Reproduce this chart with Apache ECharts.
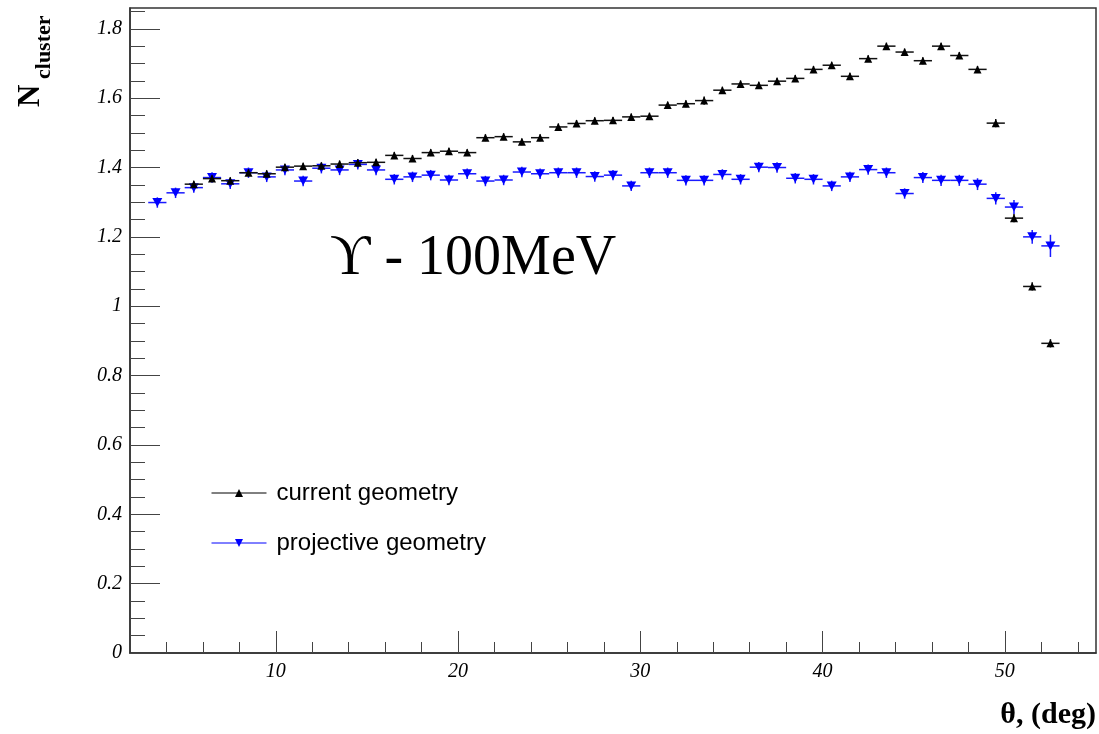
<!DOCTYPE html>
<html>
<head>
<meta charset="utf-8">
<script src="https://cdn.jsdelivr.net/npm/echarts@6/dist/echarts.min.js"></script>
<style>
  html, body { margin: 0; padding: 0; background: #fff; }
  #chart { width: 1099px; height: 734px; }
</style>
</head>
<body>
<div id="chart"></div>
<script>
// bin centres, deg
var theta = [3.5, 4.5, 5.5, 6.5, 7.5, 8.5, 9.5, 10.5, 11.5, 12.5,
  13.5, 14.5, 15.5, 16.5, 17.5, 18.5, 19.5, 20.5, 21.5, 22.5,
  23.5, 24.5, 25.5, 26.5, 27.5, 28.5, 29.5, 30.5, 31.5, 32.5,
  33.5, 34.5, 35.5, 36.5, 37.5, 38.5, 39.5, 40.5, 41.5, 42.5,
  43.5, 44.5, 45.5, 46.5, 47.5, 48.5, 49.5, 50.5, 51.5, 52.5];

// current geometry
var currentVal = [null, null, 1.352, 1.368, 1.362, 1.385, 1.382, 1.401, 1.404, 1.405,
  1.410, 1.414, 1.415, 1.435, 1.426, 1.443, 1.447, 1.443, 1.486, 1.489,
  1.474, 1.486, 1.517, 1.527, 1.535, 1.536, 1.546, 1.548, 1.580, 1.584,
  1.593, 1.623, 1.641, 1.637, 1.649, 1.657, 1.683, 1.695, 1.663, 1.714,
  1.750, 1.733, 1.708, 1.750, 1.723, 1.683, 1.528, 1.254, 1.057, 0.893];
var currentErr = [0, 0, 0.010, 0.010, 0.010, 0.010, 0.010, 0.010, 0.010, 0.010,
  0.010, 0.010, 0.010, 0.010, 0.010, 0.010, 0.010, 0.010, 0.010, 0.010,
  0.010, 0.010, 0.010, 0.010, 0.010, 0.010, 0.010, 0.010, 0.010, 0.010,
  0.012, 0.010, 0.010, 0.010, 0.010, 0.010, 0.010, 0.010, 0.010, 0.010,
  0.010, 0.010, 0.010, 0.010, 0.010, 0.010, 0.012, 0.012, 0.012, 0.012];

// projective geometry
var projectiveVal = [1.299, 1.327, 1.342, 1.371, 1.353, 1.385, 1.373, 1.393, 1.361, 1.398,
  1.393, 1.409, 1.393, 1.366, 1.373, 1.378, 1.364, 1.382, 1.361, 1.364,
  1.387, 1.382, 1.385, 1.385, 1.374, 1.378, 1.347, 1.385, 1.385, 1.363,
  1.363, 1.380, 1.366, 1.401, 1.400, 1.369, 1.366, 1.347, 1.373, 1.394,
  1.385, 1.325, 1.371, 1.363, 1.363, 1.352, 1.311, 1.286, 1.200, 1.174];
var projectiveErr = [0.015, 0.015, 0.015, 0.015, 0.015, 0.015, 0.015, 0.015, 0.015, 0.015,
  0.015, 0.015, 0.015, 0.015, 0.015, 0.015, 0.015, 0.015, 0.015, 0.015,
  0.015, 0.015, 0.015, 0.015, 0.015, 0.015, 0.015, 0.015, 0.015, 0.015,
  0.015, 0.015, 0.015, 0.015, 0.015, 0.015, 0.015, 0.015, 0.015, 0.015,
  0.015, 0.015, 0.016, 0.016, 0.016, 0.017, 0.018, 0.020, 0.020, 0.032];

// axis ticks
var xMajor = [10, 20, 30, 40, 50];
var xMinor = [4, 6, 8, 12, 14, 16, 18, 22, 24, 26, 28, 32, 34, 36, 38, 42, 44, 46, 48, 52, 54];
var yMajor = [0, 0.2, 0.4, 0.6, 0.8, 1, 1.2, 1.4, 1.6, 1.8];
var yMinor = [0.05, 0.1, 0.15, 0.25, 0.3, 0.35, 0.45, 0.5, 0.55, 0.65, 0.7, 0.75,
  0.85, 0.9, 0.95, 1.05, 1.1, 1.15, 1.25, 1.3, 1.35, 1.45, 1.5, 1.55, 1.65, 1.7, 1.75, 1.85];

var SERIF = '"Liberation Serif", "DejaVu Serif", serif';

function pairs(vals) {
  return theta.map(function (t, i) { return [t, vals[i]]; });
}
function withErr(vals, errs) {
  var out = [];
  theta.forEach(function (t, i) {
    if (vals[i] != null) out.push([t, vals[i], errs[i]]);
  });
  return out;
}

// ROOT style error bars: +-half bin along x, +-err along y
function errorBars(color) {
  return function (params, api) {
    var x = api.value(0), y = api.value(1), e = api.value(2);
    var l = api.coord([x - 0.5, y]);
    var r = api.coord([x + 0.5, y]);
    var t = api.coord([x, y + e]);
    var b = api.coord([x, y - e]);
    return {
      type: 'group',
      children: [
        { type: 'line', shape: { x1: l[0], y1: l[1], x2: r[0], y2: r[1] }, style: { stroke: color, lineWidth: 1.5 } },
        { type: 'line', shape: { x1: t[0], y1: t[1], x2: b[0], y2: b[1] }, style: { stroke: color, lineWidth: 1.5 } }
      ]
    };
  };
}

var chart = echarts.init(document.getElementById('chart'));

var option = {
  animation: false,
  grid: {
    left: 130, right: 3, top: 8, bottom: 81,
    show: true, borderColor: '#333', borderWidth: 1.5
  },
  xAxis: [{
    type: 'value', min: 2, max: 55, position: 'bottom',
    splitLine: { show: false },
    axisLine: { lineStyle: { color: '#333', width: 1.5 } },
    axisTick: { inside: true, length: 22, customValues: xMajor, lineStyle: { color: '#444' } },
    axisLabel: {
      customValues: xMajor, margin: 9, color: '#000',
      fontFamily: SERIF, fontStyle: 'italic', fontSize: 20
    }
  }, {
    type: 'value', min: 2, max: 55, position: 'bottom',
    splitLine: { show: false },
    axisLine: { show: false },
    axisTick: { inside: true, length: 11, customValues: xMinor, lineStyle: { color: '#444' } },
    axisLabel: { show: false }
  }],
  yAxis: [{
    type: 'value', min: 0, max: 1.86, position: 'left',
    splitLine: { show: false },
    axisLine: { lineStyle: { color: '#333', width: 1.5 } },
    axisTick: { inside: true, length: 30, customValues: yMajor, lineStyle: { color: '#444' } },
    axisLabel: {
      customValues: yMajor, margin: 8, color: '#000',
      fontFamily: SERIF, fontStyle: 'italic', fontSize: 20
    }
  }, {
    type: 'value', min: 0, max: 1.86, position: 'left',
    splitLine: { show: false },
    axisLine: { show: false },
    axisTick: { inside: true, length: 15, customValues: yMinor, lineStyle: { color: '#444' } },
    axisLabel: { show: false }
  }],
  legend: {
    data: ['current geometry', 'projective geometry'],
    orient: 'vertical',
    left: 206, top: 476,
    itemWidth: 55, itemHeight: 10, itemGap: 26,
    lineStyle: { width: 1 },
    textStyle: { color: '#000', fontSize: 24, fontFamily: '"Liberation Sans", Arial, sans-serif', padding: [0, 0, 0, 5] }
  },
  graphic: [
    {
      type: 'text', x: 31, y: 107, rotation: Math.PI / 2,
      style: { text: 'N', font: 'bold 31px ' + SERIF, fill: '#000', align: 'left', verticalAlign: 'middle', textAlign: 'left', textVerticalAlign: 'middle' }
    },
    {
      type: 'text', x: 44, y: 79, rotation: Math.PI / 2,
      style: { text: 'cluster', font: 'bold 22px ' + SERIF, fill: '#000', align: 'left', verticalAlign: 'middle', textAlign: 'left', textVerticalAlign: 'middle' }
    },
    {
      type: 'text', x: 1096, y: 715,
      style: { text: 'θ, (deg)', font: 'bold 30px ' + SERIF, fill: '#000', align: 'right', verticalAlign: 'middle', textAlign: 'right', textVerticalAlign: 'middle' }
    },
    {
      type: 'text', x: 330, y: 259,
      style: { text: 'ϒ - 100MeV', font: '56px ' + SERIF, fill: '#000', align: 'left', verticalAlign: 'middle', textAlign: 'left', textVerticalAlign: 'middle' }
    }
  ],
  series: [
    {
      name: 'projective err', type: 'custom', xAxisIndex: 0, yAxisIndex: 0,
      renderItem: errorBars('#1a1aff'),
      encode: { x: 0, y: 1 },
      data: withErr(projectiveVal, projectiveErr)
    },
    {
      name: 'projective geometry', type: 'line', xAxisIndex: 0, yAxisIndex: 0,
      data: pairs(projectiveVal),
      symbol: 'triangle', symbolRotate: 180, symbolSize: [10, 9],
      showSymbol: true,
      itemStyle: { color: '#0000ff' },
      lineStyle: { color: '#0000ff', width: 0 },
      z: 3
    },
    {
      name: 'current err', type: 'custom', xAxisIndex: 0, yAxisIndex: 0,
      renderItem: errorBars('#111'),
      encode: { x: 0, y: 1 },
      data: withErr(currentVal, currentErr),
      z: 4
    },
    {
      name: 'current geometry', type: 'line', xAxisIndex: 0, yAxisIndex: 0,
      data: pairs(currentVal),
      symbol: 'triangle', symbolSize: [8, 8],
      showSymbol: true,
      itemStyle: { color: '#000' },
      lineStyle: { color: '#000', width: 0 },
      z: 5
    }
  ]
};

chart.setOption(option);
</script>
</body>
</html>
